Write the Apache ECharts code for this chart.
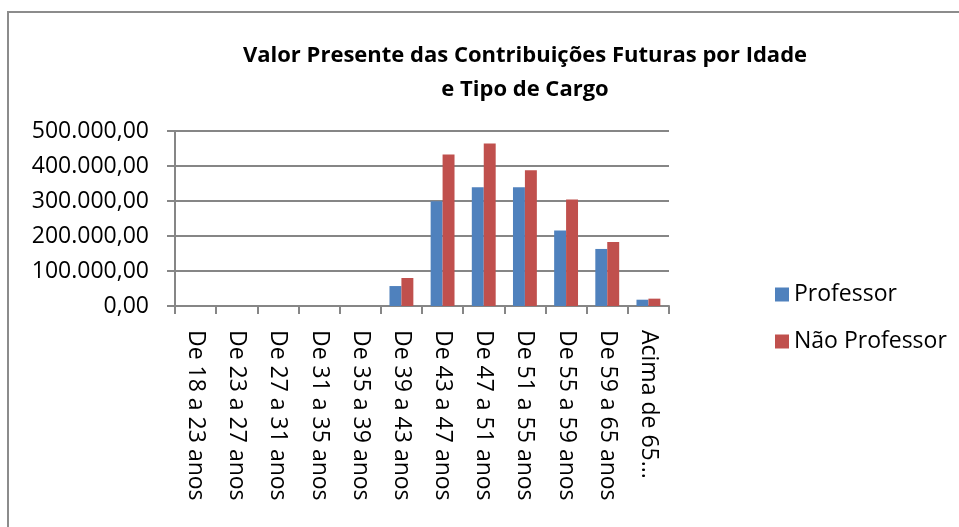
<!DOCTYPE html>
<html>
<head>
<meta charset="utf-8">
<script src="https://cdn.jsdelivr.net/npm/echarts@6/dist/echarts.min.js"></script>
<style>
  html, body { margin: 0; padding: 0; background: #fff; }
  #chart { width: 959px; height: 527px; }
</style>
</head>
<body>
<div id="chart"></div>
<script>
var categorias = [
    "De 18 a 23 anos", "De 23 a 27 anos", "De 27 a 31 anos", "De 31 a 35 anos",
    "De 35 a 39 anos", "De 39 a 43 anos", "De 43 a 47 anos", "De 47 a 51 anos",
    "De 51 a 55 anos", "De 55 a 59 anos", "De 59 a 65 anos", "Acima de 65..."
];
var professor = [0, 0, 0, 0, 0, 57000, 299000, 339000, 339000, 216000, 163000, 18000];
var naoProfessor = [0, 0, 0, 0, 0, 80000, 433000, 464000, 388000, 304000, 183000, 21000];

var fonte = "'Open Sans', 'Liberation Sans', sans-serif";

function formatar(v) {
    return v.toLocaleString("pt-BR", { minimumFractionDigits: 2, maximumFractionDigits: 2 });
}

var dom = document.getElementById("chart");
var myChart = echarts.init(dom, null, { renderer: "canvas" });

var option = {
    animation: false,
    textStyle: { fontFamily: fonte },
    graphic: [
        {
            type: "rect",
            shape: { x: 8, y: 12, width: 960, height: 530 },
            style: { fill: "none", stroke: "#8c8c8c", lineWidth: 2 },
            silent: true
        }
    ],
    title: {
        text: "Valor Presente das Contribuições Futuras por Idade\ne Tipo de Cargo",
        left: 520,
        top: 34,
        textAlign: "center",
        textStyle: {
            fontFamily: fonte,
            fontSize: 22,
            fontWeight: "bold",
            color: "#000",
            lineHeight: 34
        }
    },
    legend: {
        orient: "vertical",
        left: 770,
        top: 278,
        itemWidth: 14,
        itemHeight: 14,
        itemGap: 24,
        icon: "rect",
        textStyle: { fontFamily: fonte, fontSize: 23, color: "#000" },
        data: ["Professor", "Não Professor"]
    },
    grid: {
        left: 175,
        right: 290,
        top: 131,
        bottom: 221,
        containLabel: false
    },
    xAxis: {
        type: "category",
        data: categorias,
        axisLine: { lineStyle: { color: "#868686", width: 2 } },
        axisTick: { show: true, length: 8, lineStyle: { color: "#868686", width: 2 } },
        axisLabel: {
            rotate: -90,
            margin: 24,
            interval: 0,
            fontSize: 23,
            color: "#000",
            fontFamily: fonte
        }
    },
    yAxis: {
        type: "value",
        min: 0,
        max: 500000,
        interval: 100000,
        axisLine: { show: true, lineStyle: { color: "#868686", width: 2 } },
        axisTick: { show: true, length: 8, lineStyle: { color: "#868686", width: 2 } },
        splitLine: { lineStyle: { color: "#868686", width: 2 } },
        axisLabel: {
            formatter: formatar,
            fontSize: 23,
            color: "#000",
            margin: 26,
            fontFamily: fonte
        }
    },
    series: [
        {
            name: "Professor",
            type: "bar",
            data: professor,
            barGap: "0%",
            barCategoryGap: "42%",
            itemStyle: { color: "#4F81BD" }
        },
        {
            name: "Não Professor",
            type: "bar",
            data: naoProfessor,
            itemStyle: { color: "#C0504D" }
        }
    ]
};

myChart.setOption(option);
window.addEventListener("resize", myChart.resize);
</script>
</body>
</html>
